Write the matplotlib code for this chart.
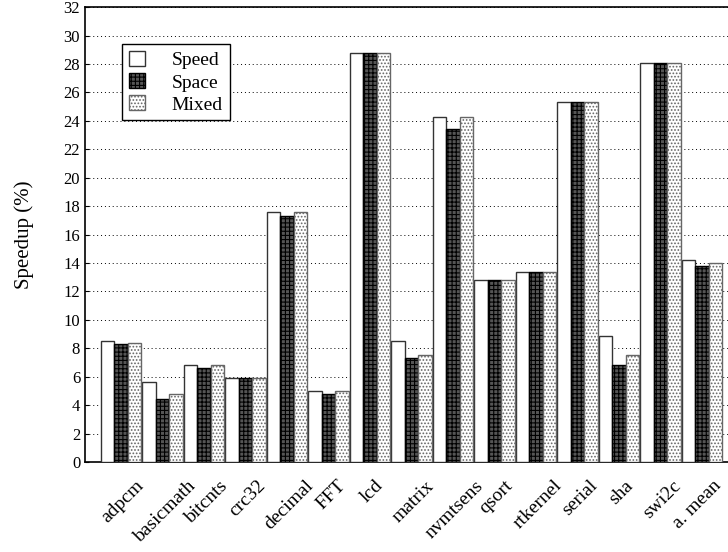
import numpy as np
import matplotlib.pyplot as plt
import matplotlib.transforms as mtransforms

plt.rcParams['font.family'] = ['Liberation Serif', 'DejaVu Serif']
plt.rcParams['hatch.linewidth'] = 0.8

benchmarks = ['adpcm', 'basicmath', 'bitcnts', 'crc32', 'decimal', 'FFT', 'lcd',
              'matrix', 'nvmtsens', 'qsort', 'rtkernel', 'serial', 'sha', 'swi2c',
              'a. mean']
speed = [8.5, 5.6, 6.8, 5.9, 17.6, 5.0, 28.8, 8.5, 24.3, 12.8, 13.4, 25.3, 8.9, 28.1, 14.2]
space = [8.3, 4.4, 6.6, 5.9, 17.3, 4.8, 28.8, 7.3, 23.4, 12.8, 13.4, 25.3, 6.8, 28.1, 13.8]
mixed = [8.4, 4.8, 6.8, 5.9, 17.6, 5.0, 28.8, 7.5, 24.3, 12.8, 13.4, 25.3, 7.5, 28.1, 14.0]

fig = plt.figure(figsize=(7.28, 5.52), dpi=100)
ax = fig.add_axes([0.1168, 0.163, 0.897, 0.824])

x = np.arange(len(benchmarks))
w = 0.325
ax.bar(x - w, speed, w, color='white', edgecolor='#333333', linewidth=1.0,
       label='Speed', zorder=3)
ax.bar(x, space, w, color='#555555', edgecolor='black', hatch='++++',
       linewidth=1.0, label='Space', zorder=3)
ax.bar(x + w, mixed, w, color='white', edgecolor='#666666', hatch='.....',
       linewidth=1.0, label='Mixed', zorder=3)

ax.set_ylim(0, 32)
ax.set_yticks(range(0, 33, 2))
ax.set_xlim(-0.87, 14.87)
ax.set_xticks(x + 0.05)
ax.set_xticklabels(benchmarks, rotation=45, ha='center', fontsize=14)
ax.tick_params(axis='x', length=0, pad=11)
ax.tick_params(axis='y', labelsize=12, direction='in', length=3)
# keep the last label inside the picture
last = ax.get_xticklabels()[-1]
last.set_transform(last.get_transform() +
                   mtransforms.ScaledTranslation(-0.07, 0, fig.dpi_scale_trans))
ax.yaxis.grid(True, linestyle=(0, (1, 3)), color='black', linewidth=0.7, zorder=0)
ax.set_axisbelow(True)
for s in ax.spines.values():
    s.set_linewidth(1.2)

ax.set_ylabel('Speedup (%)', fontsize=15, labelpad=21)

leg = ax.legend(loc='upper left', bbox_to_anchor=(0.057, 0.918), fontsize=14,
                frameon=True, fancybox=False, edgecolor='black', framealpha=1,
                handlelength=0.8, handleheight=0.8, handletextpad=1.4,
                borderpad=0.35, labelspacing=0.2, borderaxespad=0)
leg.get_frame().set_linewidth(1.0)

fig.savefig('out.png', dpi=100)
